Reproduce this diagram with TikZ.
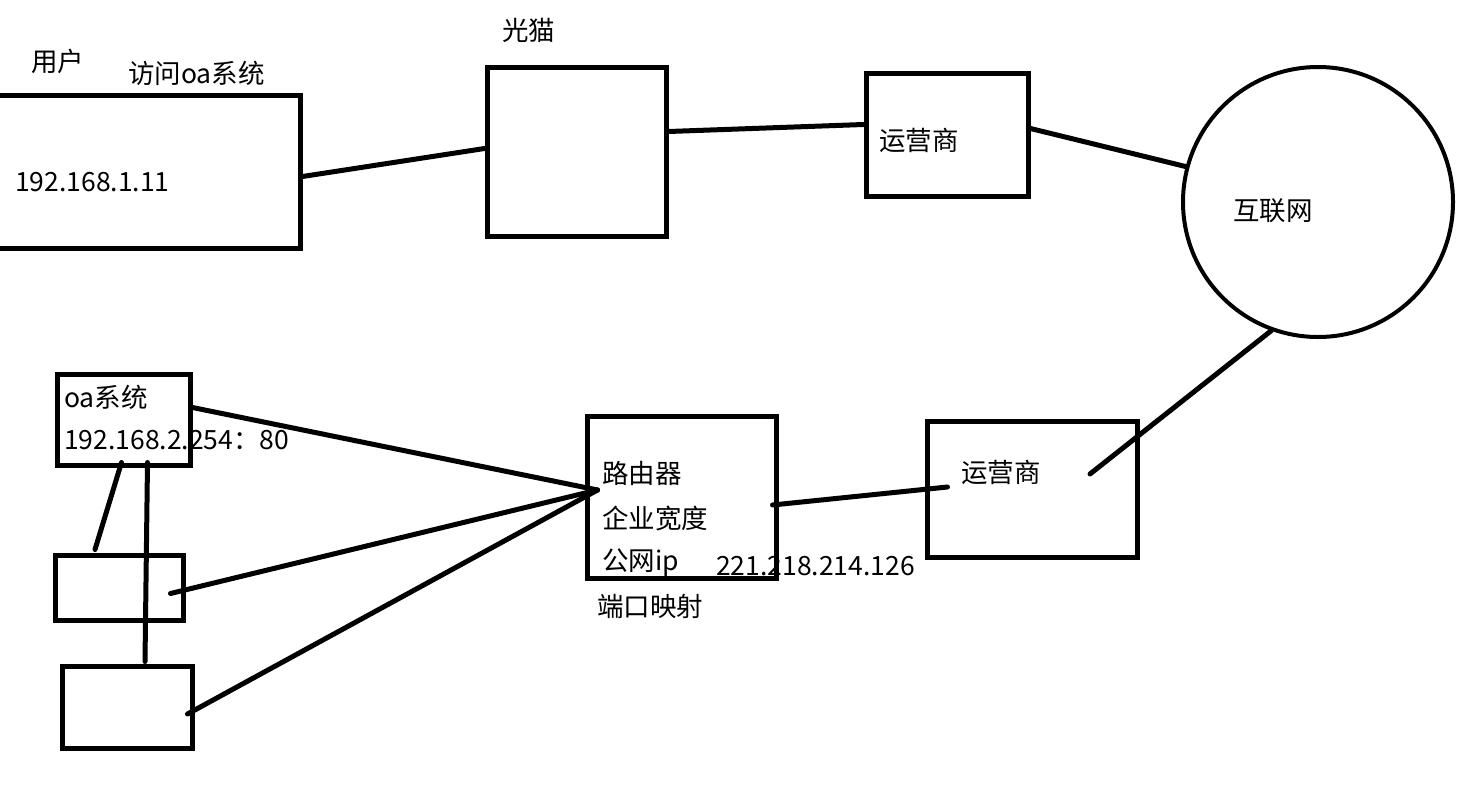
\documentclass[tikz,border=0pt]{standalone}
\usepackage{fontspec}
\setmainfont{Noto Sans CJK SC}
\usetikzlibrary{positioning}

\begin{document}
\begin{tikzpicture}[x=1pt, y=-1pt]
\tikzset{device/.style =
        {
            rectangle,
            line width=5pt,
            inner sep=0pt,
            draw
        }
}

\tikzset{cloud/.style =
        {
            device,
            circle,
            line width=4pt
        }
}

\tikzset{link/.style = {
            line width=5pt,
            line cap=round
        }
}

\tikzset{note/.style = {
            anchor=west,
            inner sep=0pt,
            font=\fontsize{26.5}{30}\selectfont
        }
}

\useasboundingbox (0,0) rectangle (1470,785);

% boxes
\foreach \name / \cx / \cy / \w / \h in
    {user/140/171.5/320/153,
        modem/576.5/151.5/179/169,
        isp-top/947/134.5/162/123,
        router/681.5/497/189/162,
        isp-bot/1032/489/210/136,
        oa/123.5/419.5/133/91,
        pc1/119/587.5/128/65,
        pc2/127/707/130/82}
\node[device, minimum width=\w pt, minimum height=\h pt] at (\cx,\cy) (\name) {};

\node[cloud, minimum size=270pt] at (1318,202) (net) {};

% texts
\foreach \name / \x / \y / \txt in
    {user-who/31/61/用户,
        user-do/128/73/访问oa系统,
        user-ip/15/182/192.168.1.11,
        modem-lbl/502/30/光猫,
        isp-top-lbl/879/140/运营商,
        net-lbl/1233/211/互联网,
        oa-lbl/64/397/oa系统,
        oa-ip/64/440/192.168.2.254：80,
        router-lbl/602/473/路由器,
        router-bw/602/518/企业宽度,
        router-pub/602/563/公网ip,
        router-ip/716/566/221.218.214.126,
        router-map/597/606/端口映射,
        isp-bot-lbl/961/472/运营商}
\node[note] at (\x,\y) (\name) {\txt};

% link ends
\coordinate (user-out) at ([yshift=-5pt]user.east);
\coordinate (modem-in) at ([yshift=3pt]modem.west);
\coordinate (modem-out) at ([yshift=20pt]modem.east);
\coordinate (isp-top-in) at ([yshift=10pt]isp-top.west);
\coordinate (isp-top-out) at ([yshift=6pt]isp-top.east);
\coordinate (isp-bot-up) at ([xshift=58pt, yshift=15pt]isp-bot.center);
\coordinate (isp-bot-in) at ([xshift=23pt, yshift=2pt]isp-bot.west);
\coordinate (router-out) at ([xshift=-6pt, yshift=-8pt]router.east);
\coordinate (hub) at ([xshift=13pt, yshift=7pt]router.west);
\coordinate (oa-out) at ([yshift=12pt]oa.east);
\coordinate (pc1-out) at ([xshift=-15pt, yshift=-6pt]pc1.east);
\coordinate (pc2-out) at ([xshift=-7pt, yshift=-7pt]pc2.east);
\coordinate (oa-down1) at ([xshift=-2pt, yshift=5pt]oa.south);
\coordinate (oa-down2) at ([xshift=24pt, yshift=5pt]oa.south);
\coordinate (pc1-up) at ([xshift=-24pt, yshift=3pt]pc1.north);
\coordinate (pc2-up) at ([xshift=18pt, yshift=2pt]pc2.north);

\foreach \start / \finish in
    {user-out/modem-in,
        modem-out/isp-top-in,
        isp-top-out/net.165,
        net.-110/isp-bot-up,
        router-out/isp-bot-in,
        oa-out/hub,
        pc1-out/hub,
        pc2-out/hub,
        oa-down1/pc1-up,
        oa-down2/pc2-up}
    {
        \draw [link] (\start) -- (\finish);
    }

\end{tikzpicture}
\end{document}
